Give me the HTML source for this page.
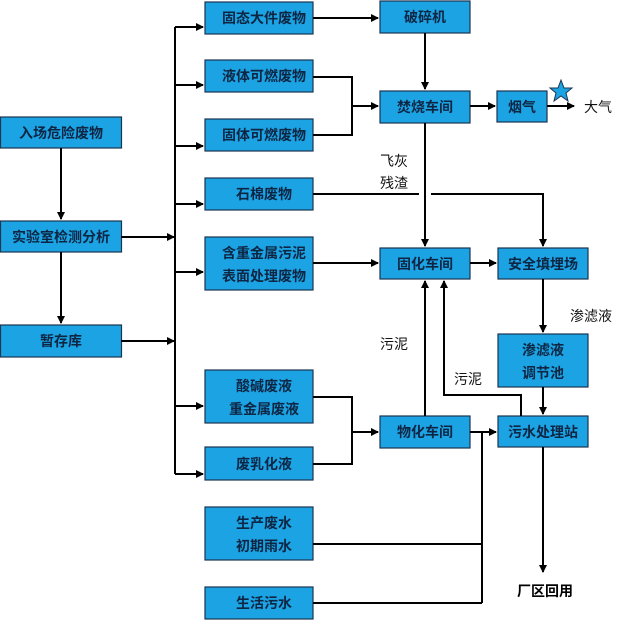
<!DOCTYPE html>
<html><head><meta charset="utf-8"><style>
html,body{margin:0;padding:0;background:#fff;}
svg{display:block}
.b{fill:#1ba3e3;stroke:#1c3550;stroke-width:1.2}
.t{font-family:"Liberation Sans","Noto Sans CJK SC",sans-serif;font-size:14px;font-weight:bold;fill:#0e2644;text-anchor:middle}
.l{font-family:"Liberation Sans","Noto Sans CJK SC",sans-serif;font-size:14px;fill:#111}
.k{stroke:#000;stroke-width:2;fill:none}
</style></head><body>
<svg width="624" height="620" viewBox="0 0 624 620" xmlns="http://www.w3.org/2000/svg">
<defs><marker id="a" markerWidth="8" markerHeight="8" refX="7" refY="4" orient="auto" markerUnits="userSpaceOnUse"><path d="M0,0 L8,4 L0,8 z" fill="#000"/></marker></defs>
<!-- left column -->
<rect class="b" x="0.5" y="117" width="121" height="31"/><text class="t" x="61" y="138">入场危险废物</text>
<rect class="b" x="0.5" y="221" width="121" height="31"/><text class="t" x="61" y="242">实验室检测分析</text>
<rect class="b" x="0.5" y="325" width="121" height="32"/><text class="t" x="61" y="346">暂存库</text>
<path class="k" d="M61,148 V219" marker-end="url(#a)"/>
<path class="k" d="M61,252 V323" marker-end="url(#a)"/>
<path class="k" d="M121,237 H174" marker-end="url(#a)"/>
<path class="k" d="M121,341 H174" marker-end="url(#a)"/>
<path class="k" d="M175,27 V474"/>
<path class="k" d="M175,27 H203" marker-end="url(#a)"/>
<path class="k" d="M175,85 H203" marker-end="url(#a)"/>
<path class="k" d="M175,146 H203" marker-end="url(#a)"/>
<path class="k" d="M175,204 H203" marker-end="url(#a)"/>
<path class="k" d="M175,272 H203" marker-end="url(#a)"/>
<path class="k" d="M175,406 H203" marker-end="url(#a)"/>
<path class="k" d="M175,474 H203" marker-end="url(#a)"/>
<!-- column 2 -->
<rect class="b" x="205" y="2" width="108" height="32"/><text class="t" x="264" y="23">固态大件废物</text>
<rect class="b" x="205" y="60" width="108" height="32"/><text class="t" x="264" y="81">液体可燃废物</text>
<rect class="b" x="205" y="119" width="108" height="32"/><text class="t" x="264" y="140">固体可燃废物</text>
<rect class="b" x="205" y="178" width="108" height="32"/><text class="t" x="264" y="199">石棉废物</text>
<rect class="b" x="205" y="237" width="108" height="53"/><text class="t" x="264" y="258">含重金属污泥</text><text class="t" x="264" y="281">表面处理废物</text>
<rect class="b" x="205" y="370" width="108" height="53"/><text class="t" x="264" y="391">酸碱废液</text><text class="t" x="264" y="414">重金属废液</text>
<rect class="b" x="205" y="447" width="108" height="33"/><text class="t" x="264" y="469">废乳化液</text>
<rect class="b" x="205" y="507" width="108" height="53"/><text class="t" x="264" y="528">生产废水</text><text class="t" x="264" y="551">初期雨水</text>
<rect class="b" x="205" y="587" width="108" height="32"/><text class="t" x="264" y="608">生活污水</text>
<!-- column 3 -->
<rect class="b" x="380" y="1" width="90" height="32"/><text class="t" x="425" y="22">破碎机</text>
<rect class="b" x="380" y="91" width="90" height="32"/><text class="t" x="425" y="112">焚烧车间</text>
<rect class="b" x="497" y="91" width="50" height="31"/><text class="t" x="522" y="112">烟气</text>
<rect class="b" x="380" y="248" width="90" height="31"/><text class="t" x="425" y="269">固化车间</text>
<rect class="b" x="380" y="416" width="90" height="32"/><text class="t" x="425" y="437">物化车间</text>
<rect class="b" x="498" y="248" width="90" height="31"/><text class="t" x="543" y="269">安全填埋场</text>
<rect class="b" x="498" y="334" width="90" height="53"/><text class="t" x="543" y="355">渗滤液</text><text class="t" x="543" y="378">调节池</text>
<rect class="b" x="498" y="416" width="90" height="31"/><text class="t" x="543" y="437">污水处理站</text>
<!-- connectors -->
<path class="k" d="M313,18 H378" marker-end="url(#a)"/>
<path class="k" d="M425,33 V89" marker-end="url(#a)"/>
<path class="k" d="M313,77 H352 V135 H313"/>
<path class="k" d="M352,106 H378" marker-end="url(#a)"/>
<path class="k" d="M470,106 H495" marker-end="url(#a)"/>
<path class="k" d="M547,106 H574" marker-end="url(#a)"/>
<polygon points="561,80 564,88 572,88 566,93 568,101 561,96 554,101 556,93 550,88 558,88" fill="#1ba3e3" stroke="#1c3550" stroke-width="1"/>
<text class="l" x="584" y="112">大气</text>
<path class="k" d="M425,123 V246" marker-end="url(#a)"/>
<text class="l" x="380" y="166">飞灰</text>
<text class="l" x="380" y="188">残渣</text>
<path class="k" d="M313,194 H419"/>
<path class="k" d="M431,194 H543 V246" marker-end="url(#a)"/>
<path class="k" d="M313,263 H378" marker-end="url(#a)"/>
<path class="k" d="M470,263 H496" marker-end="url(#a)"/>
<path class="k" d="M543,279 V332" marker-end="url(#a)"/>
<text class="l" x="570" y="321">渗滤液</text>
<path class="k" d="M543,387 V414" marker-end="url(#a)"/>
<path class="k" d="M425,416 V281" marker-end="url(#a)"/>
<text class="l" x="380" y="349">污泥</text>
<path class="k" d="M521,416 V395 H444 V281" marker-end="url(#a)"/>
<text class="l" x="454" y="384">污泥</text>
<path class="k" d="M313,397 H352 V464 H313"/>
<path class="k" d="M352,432 H378" marker-end="url(#a)"/>
<path class="k" d="M470,432 H496" marker-end="url(#a)"/>
<path class="k" d="M482,432 V603"/>
<path class="k" d="M313,544 H482"/>
<path class="k" d="M313,603 H482"/>
<path class="k" d="M543,447 V572" marker-end="url(#a)"/>
<text class="t" x="545" y="596" style="fill:#000">厂区回用</text>
</svg>
</body></html>
